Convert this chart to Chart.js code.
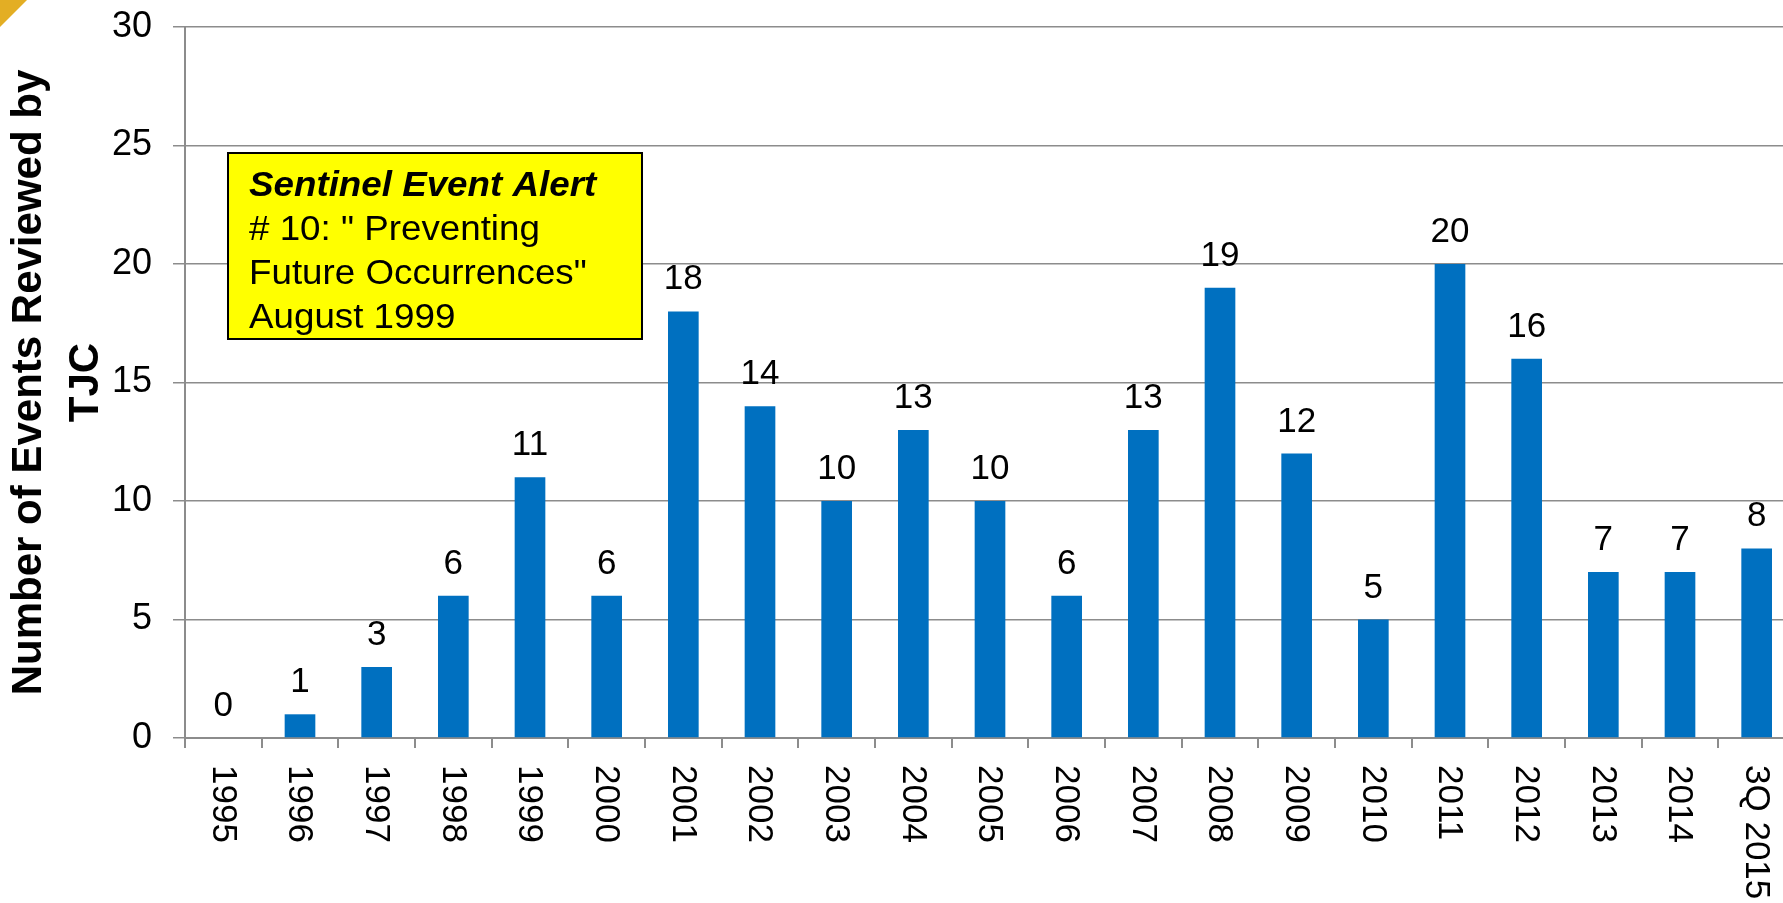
<!DOCTYPE html>
<html>
<head>
<meta charset="utf-8">
<script src="https://cdn.jsdelivr.net/npm/chart.js@4.4.1/dist/chart.umd.min.js"></script>
<style>
  html, body { margin: 0; padding: 0; background: #fff; overflow: hidden; }
  #wrap { width: 1795px; height: 903px; }
</style>
</head>
<body>
<div id="wrap"><canvas id="events" width="1795" height="903"></canvas></div>
<script>
// data
const years = ["1995", "1996", "1997", "1998", "1999", "2000", "2001", "2002", "2003", "2004",
  "2005", "2006", "2007", "2008", "2009", "2010", "2011", "2012", "2013", "2014", "3Q 2015"];
const events = [0, 1, 3, 6, 11, 6, 18, 14, 10, 13, 10, 6, 13, 19, 12, 5, 20, 16, 7, 7, 8];
const yMin = 0, yMax = 30, yStep = 5;
const axisTitle = ["Number of Events Reviewed by", "TJC"];
const noteLines = ["Sentinel Event Alert", "# 10: \" Preventing", "Future Occurrences\"", "August 1999"];

const FONT = "'Liberation Sans', Arial, sans-serif";
const GRID = "#8c8c8c";

// draws rotated year labels, value labels, the note box and the corner mark
const extras = {
  id: "extras",
  afterDraw(chart) {
    const ctx = chart.ctx;
    const x = chart.scales.x;
    const area = chart.chartArea;

    // x labels, read top to bottom
    ctx.save();
    ctx.fillStyle = "#000";
    ctx.font = "35px " + FONT;
    ctx.textAlign = "left";
    ctx.textBaseline = "middle";
    years.forEach((lbl, i) => {
      ctx.save();
      ctx.translate(x.getPixelForTick(i) - 1, area.bottom + 27);
      ctx.rotate(Math.PI / 2);
      ctx.fillText(lbl, 0, 0);
      ctx.restore();
    });
    ctx.restore();

    // value labels above bars
    const meta = chart.getDatasetMeta(0);
    ctx.save();
    ctx.fillStyle = "#000";
    ctx.font = "35px " + FONT;
    ctx.textAlign = "center";
    ctx.textBaseline = "alphabetic";
    meta.data.forEach((bar, i) => {
      ctx.fillText(String(events[i]), bar.x, bar.y - 22);
    });
    ctx.restore();

    // note box
    const bx = area.left + 43, by = area.top + 126, bw = 414, bh = 186;
    ctx.save();
    ctx.fillStyle = "#ffff00";
    ctx.fillRect(bx, by, bw, bh);
    ctx.lineWidth = 2;
    ctx.strokeStyle = "#000";
    ctx.strokeRect(bx, by, bw, bh);
    ctx.fillStyle = "#000";
    ctx.textAlign = "left";
    ctx.textBaseline = "alphabetic";
    noteLines.forEach((t, i) => {
      ctx.save();
      ctx.translate(bx + 21, by + 43 + i * 44);
      ctx.scale(1.05, 1);
      ctx.font = (i === 0 ? "italic bold " : "") + "35px " + FONT;
      ctx.fillText(t, 0, 0);
      ctx.restore();
    });
    ctx.restore();

    // corner mark
    ctx.save();
    ctx.fillStyle = "#e3ae24";
    ctx.beginPath();
    ctx.moveTo(0, 0);
    ctx.lineTo(27, 0);
    ctx.lineTo(0, 27);
    ctx.closePath();
    ctx.fill();
    ctx.restore();
  }
};

new Chart(document.getElementById("events"), {
  type: "bar",
  data: {
    labels: years,
    datasets: [{
      data: events,
      backgroundColor: "#0070c0",
      borderWidth: 0,
      barPercentage: 0.4,
      categoryPercentage: 1.0
    }]
  },
  options: {
    responsive: false,
    animation: false,
    layout: { padding: { top: 27, right: 0, bottom: 0, left: 0 } },
    plugins: { legend: { display: false }, tooltip: { enabled: false } },
    scales: {
      x: {
        grid: {
          offset: true,
          drawOnChartArea: false,
          drawTicks: true,
          tickLength: 10,
          color: GRID,
          lineWidth: 2
        },
        border: { color: GRID, width: 2 },
        ticks: { display: false },
        afterFit(s) { s.height = 165; }
      },
      y: {
        min: yMin,
        max: yMax,
        ticks: {
          stepSize: yStep,
          color: "#000",
          padding: 21,
          font: { family: FONT, size: 36 }
        },
        grid: { color: GRID, lineWidth: 1.5, drawTicks: true, tickLength: 12 },
        border: { color: GRID, width: 2 },
        title: {
          display: true,
          text: axisTitle,
          color: "#000",
          padding: { top: 1, bottom: 0 },
          font: { family: FONT, size: 42, weight: "bold", lineHeight: 1.36 }
        },
        afterFit(s) {
          s.width = 185;
          s.paddingTop = 0;
          s.paddingBottom = 0;
        }
      }
    }
  },
  plugins: [extras]
});
</script>
</body>
</html>
